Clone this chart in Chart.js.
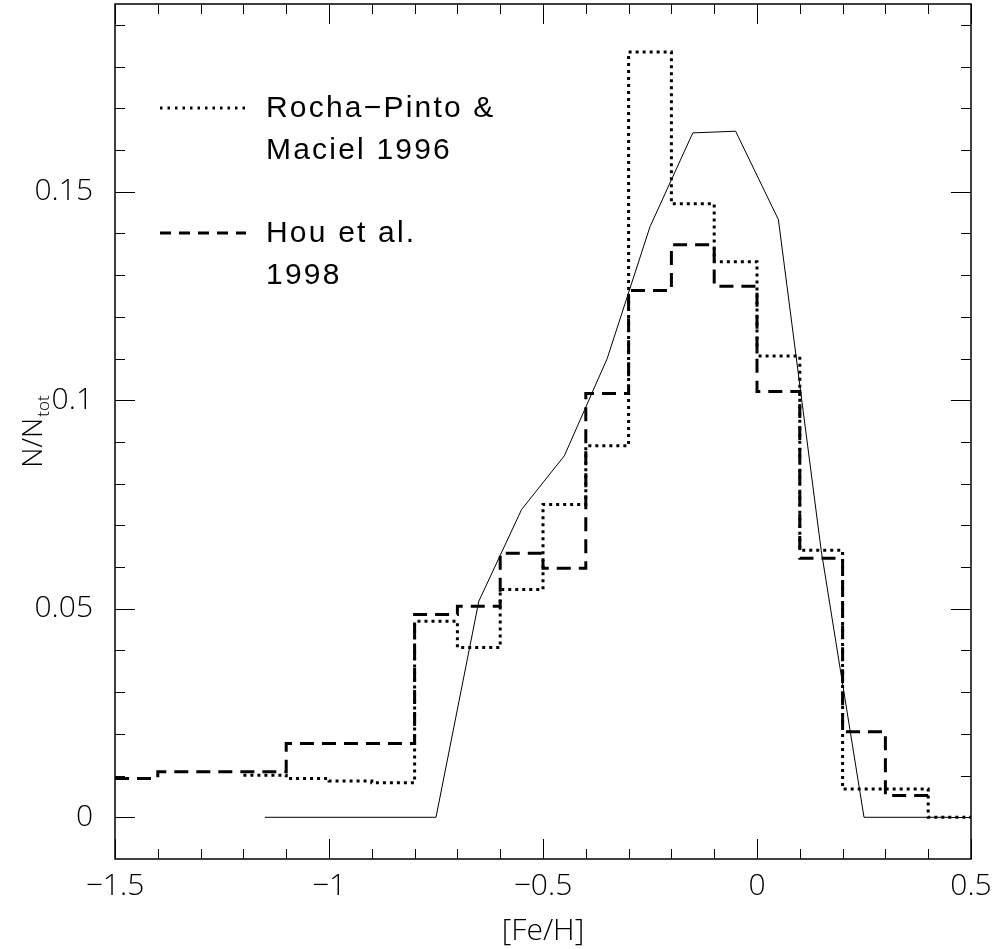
<!DOCTYPE html>
<html>
<head>
<meta charset="utf-8">
<script src="https://cdn.jsdelivr.net/npm/chart.js@4.4.0/dist/chart.umd.min.js"></script>
<style>
  html, body { margin: 0; padding: 0; background: #fff; }
  #wrap { width: 996px; height: 949px; }
</style>
</head>
<body>
<div id="wrap"><canvas id="chart"></canvas></div>
<script>
// histogram bins are 0.1 dex wide, values are left edge -> value
const binWidth = 0.1;
const houStart = -1.5;
const houValues = [0.0093, 0.0109, 0.0109, 0.0109, 0.0177, 0.0177, 0.0177, 0.0486, 0.0506, 0.0633,
                   0.0597, 0.1016, 0.1263, 0.1373, 0.1273, 0.1021, 0.0621, 0.0205, 0.0052];
const rochaStart = -1.2;
const rochaValues = [0.0101, 0.0093, 0.0087, 0.0083, 0.0470, 0.0407, 0.0546, 0.0750, 0.0891,
                     0.1835, 0.1471, 0.1332, 0.1106, 0.0640, 0.0068, 0.0068, 0.0];
// model curve
const modelX = [-1.15, -0.75, -0.65, -0.55, -0.45, -0.35, -0.25, -0.15, -0.05, 0.05, 0.15, 0.25, 0.45];
const modelY = [0, 0, 0.0518, 0.0738, 0.0867, 0.110, 0.1416, 0.1641, 0.1645, 0.1433, 0.064, 0, 0];

const xTicks = [-1.5, -1, -0.5, 0, 0.5];
const yTicks = [0, 0.05, 0.1, 0.15];
const labelFont = "'Open Sans', 'DejaVu Sans', sans-serif";

function histPoints(start, values) {
    const pts = values.map((v, i) => ({ x: Math.round((start + i * binWidth) * 10) / 10, y: v }));
    const last = values[values.length - 1];
    pts.push({ x: Math.round((start + values.length * binWidth) * 10) / 10, y: last });
    return pts;
}

const frameAndLegend = {
    id: 'frameAndLegend',
    afterDraw(chart) {
        const { ctx, chartArea: a, scales: { x, y } } = chart;
        ctx.save();
        ctx.strokeStyle = '#000';

        // inside ticks on all four sides
        ctx.lineWidth = 1;
        ctx.beginPath();
        for (let i = -15; i <= 5; i++) {
            const px = Math.round(x.getPixelForValue(i / 10)) + 0.5;
            const len = i % 5 === 0 ? 20 : 10;
            ctx.moveTo(px, a.bottom); ctx.lineTo(px, a.bottom - len);
            ctx.moveTo(px, a.top); ctx.lineTo(px, a.top + len);
        }
        for (let i = 0; i <= 19; i++) {
            const py = Math.round(y.getPixelForValue(i / 100)) + 0.5;
            const len = i % 5 === 0 ? 20 : 10;
            ctx.moveTo(a.left, py); ctx.lineTo(a.left + len, py);
            ctx.moveTo(a.right, py); ctx.lineTo(a.right - len, py);
        }
        ctx.stroke();

        // frame
        ctx.lineWidth = 1.5;
        ctx.strokeRect(a.left, a.top, a.right - a.left, a.bottom - a.top);

        // legend
        ctx.lineWidth = 3;
        ctx.setLineDash([2.5, 5]);
        ctx.beginPath(); ctx.moveTo(160, 108); ctx.lineTo(246, 108); ctx.stroke();
        ctx.setLineDash([11, 8]);
        ctx.beginPath(); ctx.moveTo(160, 233); ctx.lineTo(246, 233); ctx.stroke();
        ctx.setLineDash([]);
        ctx.fillStyle = '#000';
        ctx.font = "30px 'Liberation Sans', Arial, sans-serif";
        ctx.letterSpacing = '2.2px';
        ctx.textBaseline = 'middle';
        ctx.textAlign = 'left';
        ctx.fillText('Rocha\u2212Pinto &', 266, 109);
        ctx.fillText('Maciel 1996', 266, 151);
        ctx.fillText('Hou et al.', 266, 234);
        ctx.fillText('1998', 266, 276);

        // y axis title N/N_tot
        ctx.letterSpacing = '0px';
        ctx.translate(32, 432);
        ctx.rotate(-Math.PI / 2);
        ctx.textBaseline = 'alphabetic';
        const main = 'N/N';
        ctx.font = "300 28px " + labelFont;
        const w1 = ctx.measureText(main).width;
        ctx.font = "300 17px " + labelFont;
        const w2 = ctx.measureText('tot').width;
        const x0 = -(w1 + w2) / 2;
        ctx.font = "300 28px " + labelFont;
        ctx.fillText(main, x0, 10);
        ctx.font = "300 17px " + labelFont;
        ctx.fillText('tot', x0 + w1 + 1, 17);
        ctx.restore();
    }
};

new Chart(document.getElementById('chart'), {
    type: 'scatter',
    data: {
        datasets: [
            {
                label: 'Rocha-Pinto & Maciel 1996',
                data: histPoints(rochaStart, rochaValues),
                showLine: true, stepped: true,
                borderColor: '#000', borderWidth: 3, borderDash: [3, 4],
                pointRadius: 0
            },
            {
                label: 'Hou et al. 1998',
                data: histPoints(houStart, houValues),
                showLine: true, stepped: true,
                borderColor: '#000', borderWidth: 3, borderDash: [14, 8],
                pointRadius: 0
            },
            {
                label: 'model',
                data: modelX.map((v, i) => ({ x: v, y: modelY[i] })),
                showLine: true,
                borderColor: '#000', borderWidth: 1,
                pointRadius: 0
            }
        ]
    },
    options: {
        responsive: true,
        maintainAspectRatio: false,
        animation: false,
        layout: { padding: { top: 4, right: 25, left: 0, bottom: 0 } },
        plugins: {
            legend: { display: false },
            tooltip: { enabled: false }
        },
        scales: {
            x: {
                type: 'linear',
                min: -1.5, max: 0.5,
                afterFit: s => { s.height = 90; s.paddingLeft = 0; s.paddingRight = 0; },
                afterBuildTicks: s => { s.ticks = xTicks.map(v => ({ value: v })); },
                grid: { display: false, drawTicks: false },
                border: { display: false },
                ticks: {
                    padding: 9,
                    color: '#000',
                    font: { family: labelFont, size: 30, weight: 300 },
                    maxRotation: 0,
                    callback: v => String(v).replace('-', '\u2212')
                },
                title: {
                    display: true,
                    text: '[Fe/H]',
                    color: '#000',
                    font: { family: labelFont, size: 30, weight: 300 },
                    padding: { top: 0, bottom: 0 }
                }
            },
            y: {
                type: 'linear',
                min: -0.01, max: 0.195,
                afterFit: s => { s.width = 115; s.paddingTop = 0; s.paddingBottom = 0; },
                afterBuildTicks: s => { s.ticks = yTicks.map(v => ({ value: v })); },
                grid: { display: false, drawTicks: false },
                border: { display: false },
                ticks: {
                    padding: 22,
                    color: '#000',
                    font: { family: labelFont, size: 30, weight: 300 },
                    callback: v => String(v)
                }
            }
        }
    },
    plugins: [frameAndLegend]
});
</script>
</body>
</html>
